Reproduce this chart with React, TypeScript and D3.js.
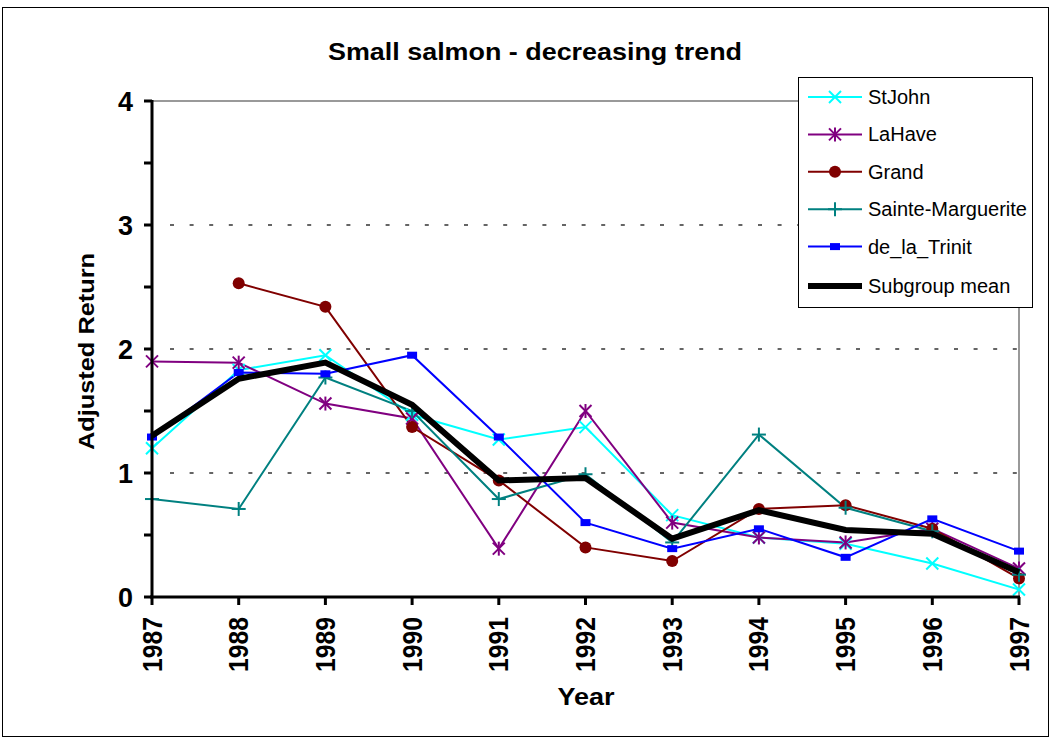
import React from "react";
import * as d3 from "d3";

const years = [1987, 1988, 1989, 1990, 1991, 1992, 1993, 1994, 1995, 1996, 1997];
const stJohn = [1.2, 1.83, 1.95, 1.47, 1.27, 1.37, 0.66, 0.48, 0.43, 0.27, 0.06];
const laHave = [1.9, 1.89, 1.56, 1.44, 0.39, 1.5, 0.6, 0.48, 0.44, 0.55, 0.23];
const grand: (number | null)[] = [null, 2.53, 2.34, 1.37, 0.94, 0.4, 0.29, 0.71, 0.74, 0.55, 0.15];
const sainteMarguerite = [0.79, 0.71, 1.77, 1.5, 0.79, 0.99, 0.44, 1.31, 0.72, 0.53, 0.18];
const deLaTrinit = [1.29, 1.81, 1.8, 1.95, 1.29, 0.6, 0.39, 0.55, 0.32, 0.63, 0.37];
const subgroupMean = [1.3, 1.76, 1.89, 1.55, 0.94, 0.96, 0.47, 0.7, 0.54, 0.51, 0.2];
const yTicks = [0, 1, 2, 3, 4];
const seriesNames = ["StJohn", "LaHave", "Grand", "Sainte-Marguerite", "de_la_Trinit", "Subgroup mean"];

const series = [
  { name: seriesNames[0], values: stJohn, color: "#00FFFF", marker: "x", width: 2 },
  { name: seriesNames[1], values: laHave, color: "#800080", marker: "star", width: 2 },
  { name: seriesNames[2], values: grand, color: "#800000", marker: "circle", width: 2 },
  { name: seriesNames[3], values: sainteMarguerite, color: "#008080", marker: "plus", width: 2 },
  { name: seriesNames[4], values: deLaTrinit, color: "#0000FF", marker: "square", width: 2 },
  { name: seriesNames[5], values: subgroupMean, color: "#000000", marker: "none", width: 6 },
];

const FONT = "'Liberation Sans', Arial, sans-serif";

function Marker({ type, x, y, color }: { type: string; x: number; y: number; color: string }) {
  const s = 6;
  if (type === "x")
    return (
      <g stroke={color} strokeWidth={2}>
        <line x1={x - s} y1={y - s} x2={x + s} y2={y + s} />
        <line x1={x - s} y1={y + s} x2={x + s} y2={y - s} />
      </g>
    );
  if (type === "star")
    return (
      <g stroke={color} strokeWidth={2}>
        <line x1={x - s} y1={y - s} x2={x + s} y2={y + s} />
        <line x1={x - s} y1={y + s} x2={x + s} y2={y - s} />
        <line x1={x} y1={y - s - 1} x2={x} y2={y + s + 1} />
      </g>
    );
  if (type === "circle") return <circle cx={x} cy={y} r={6} fill={color} />;
  if (type === "plus")
    return (
      <g stroke={color} strokeWidth={2}>
        <line x1={x - s - 1} y1={y} x2={x + s + 1} y2={y} />
        <line x1={x} y1={y - s - 1} x2={x} y2={y + s + 1} />
      </g>
    );
  if (type === "square") return <rect x={x - 5} y={y - 3.5} width={10} height={7} fill={color} />;
  return null;
}

export default function App() {
  const W = 1053;
  const H = 740;
  const x = d3.scaleLinear().domain([1987, 1997]).range([152, 1019]);
  const y = d3.scaleLinear().domain([0, 4]).range([597, 101]);
  const line = d3
    .line<number | null>()
    .defined((d) => d !== null)
    .x((_, i) => x(years[i]))
    .y((d) => y(d as number));
  const halfTicks = d3.range(0, 4.01, 0.5);

  const legX = 798;
  const legY = 77;

  return (
    <svg width={W} height={H} style={{ position: "absolute", left: 0, top: 0 }} fontFamily={FONT}>
      <rect x={0} y={0} width={W} height={H} fill="#fff" />
      <rect x={2.5} y={7.5} width={1046} height={729} fill="none" stroke="#000" strokeWidth={1} />
      <text
        x={535}
        y={60}
        textAnchor="middle"
        fontSize={23.5}
        fontWeight="bold"
        textLength={414}
        lengthAdjust="spacingAndGlyphs"
      >
        Small salmon - decreasing trend
      </text>

      {/* gridlines */}
      {[1, 2, 3].map((t) => (
        <line
          key={t}
          x1={170}
          x2={1019}
          y1={y(t)}
          y2={y(t)}
          stroke="#333"
          strokeWidth={1.3}
          strokeDasharray="4,15.6"
        />
      ))}
      <line x1={152} x2={1019} y1={y(4)} y2={y(4)} stroke="#999" strokeWidth={2} />
      <line x1={1019} x2={1019} y1={y(4)} y2={y(0)} stroke="#999" strokeWidth={2} />

      {/* series lines */}
      {series.slice(0, 5).map((s) => (
        <path key={s.name} d={line(s.values) || ""} fill="none" stroke={s.color} strokeWidth={s.width} />
      ))}
      {series.slice(0, 5).map((s) => (
        <g key={s.name + "m"}>
          {s.values.map((v, i) =>
            v === null ? null : <Marker key={i} type={s.marker} x={x(years[i])} y={y(v)} color={s.color} />
          )}
        </g>
      ))}
      <path d={line(subgroupMean) || ""} fill="none" stroke="#000" strokeWidth={6} strokeLinejoin="miter" />

      {/* axes */}
      <line x1={152} x2={152} y1={y(4) - 1} y2={y(0) + 1} stroke="#000" strokeWidth={3} />
      {halfTicks.map((t) => (
        <line key={t} x1={144} x2={152} y1={y(t)} y2={y(t)} stroke="#000" strokeWidth={3} />
      ))}
      <line x1={150} x2={1020} y1={y(0)} y2={y(0)} stroke="#000" strokeWidth={3} />
      {years.map((yr) => (
        <line key={yr} x1={x(yr)} x2={x(yr)} y1={y(0)} y2={y(0) + 8} stroke="#000" strokeWidth={3} />
      ))}
      {yTicks.map((t) => (
        <text
          key={t}
          x={133}
          y={y(t) + 10}
          textAnchor="end"
          fontSize={28}
          fontWeight="bold"
          textLength={15}
          lengthAdjust="spacingAndGlyphs"
        >
          {t}
        </text>
      ))}
      {years.map((yr) => (
        <text
          key={yr}
          transform={`translate(${x(yr) + 9.5},${617}) rotate(-90)`}
          textAnchor="end"
          fontSize={27.5}
          fontWeight="bold"
          textLength={55}
          lengthAdjust="spacingAndGlyphs"
        >
          {yr}
        </text>
      ))}
      <text
        x={586}
        y={705}
        textAnchor="middle"
        fontSize={24}
        fontWeight="bold"
        textLength={57}
        lengthAdjust="spacingAndGlyphs"
      >
        Year
      </text>
      <text
        transform={`translate(94,351.5) rotate(-90)`}
        textAnchor="middle"
        fontSize={22}
        fontWeight="bold"
        textLength={197}
        lengthAdjust="spacingAndGlyphs"
      >
        Adjusted Return
      </text>

      {/* legend */}
      <rect x={legX + 0.5} y={legY + 0.5} width={234} height={230} fill="#fff" stroke="#000" strokeWidth={1} />
      {series.map((s, i) => {
        const ly = legY + 20 + i * 37.4 + (i === 5 ? 2 : 0);
        return (
          <g key={s.name}>
            <line x1={808} x2={862} y1={ly} y2={ly} stroke={s.color} strokeWidth={s.width} />
            <Marker type={s.marker} x={835} y={ly} color={s.color} />
            <text x={868} y={ly + 7} fontSize={20}>
              {s.name}
            </text>
          </g>
        );
      })}
    </svg>
  );
}
